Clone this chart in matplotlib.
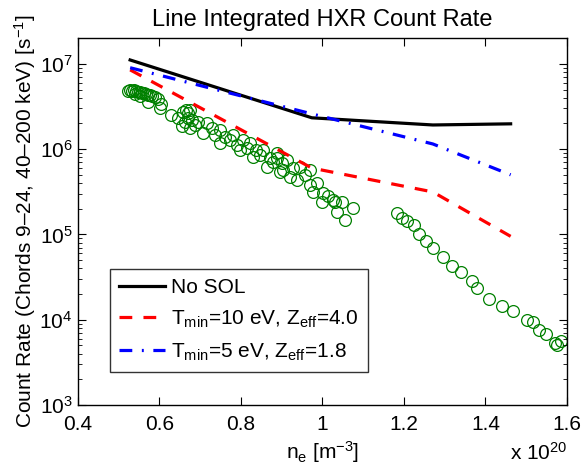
import matplotlib
matplotlib.use("Agg")
import matplotlib.pyplot as plt
from matplotlib.ticker import LogLocator, FixedLocator, NullFormatter

plt.rcParams['font.family'] = ['Liberation Sans', 'DejaVu Sans']
plt.rcParams['mathtext.fontset'] = 'custom'
plt.rcParams['mathtext.rm'] = 'Liberation Sans'
plt.rcParams['mathtext.it'] = 'Liberation Sans:italic'

# Model curves
ne_model = [0.528, 0.974, 1.271, 1.462]
no_sol = [1.11e7, 2.33e6, 1.92e6, 1.98e6]
tmin10 = [8.5e6, 6.0e5, 3.15e5, 9.5e4]
tmin5 = [9.0e6, 2.59e6, 1.15e6, 5.0e5]

# Measured data (group 1)
ne_meas1 = [0.523, 0.528, 0.533, 0.537, 0.542, 0.547, 0.552, 0.557, 0.562, 0.567,
            0.572, 0.577, 0.582, 0.589, 0.596, 0.604, 0.572, 0.601, 0.552, 0.540,
            0.628, 0.645,
            0.658, 0.665, 0.670, 0.675, 0.670, 0.663, 0.680, 0.687, 0.655, 0.675, 0.694,
            0.707, 0.717, 0.729, 0.736, 0.748, 0.748, 0.761, 0.773, 0.780, 0.790,
            0.798, 0.805, 0.815, 0.822, 0.829, 0.837, 0.847, 0.854, 0.864, 0.871,
            0.879, 0.888, 0.888, 0.896, 0.901, 0.903, 0.913, 0.920, 0.928, 0.937,
            0.945, 0.957, 0.969, 0.969, 0.977, 0.987, 0.999, 1.001, 1.014, 1.026,
            1.031, 1.036, 1.048, 1.055, 1.075]
rate_meas1 = [4.82e6, 4.95e6, 4.82e6, 4.95e6, 4.82e6, 4.69e6, 4.69e6, 4.57e6, 4.57e6, 4.45e6,
              4.33e6, 4.33e6, 4.21e6, 4.10e6, 3.88e6, 3.40e6, 3.58e6, 3.05e6, 4.21e6, 4.45e6,
              2.52e6, 2.33e6,
              2.73e6, 2.89e6, 2.66e6, 2.89e6, 2.33e6, 2.09e6, 2.20e6, 1.92e6, 1.87e6, 1.77e6, 2.09e6,
              1.55e6, 2.03e6, 1.77e6, 1.47e6, 1.68e6, 1.18e6, 1.39e6, 1.28e6, 1.47e6, 1.12e6,
              9.8e5, 1.28e6, 1.03e6, 1.18e6, 8.1e5, 9.8e5, 8.6e5, 9.8e5, 6.2e5, 7.9e5,
              7.1e5, 9.0e5, 7.9e5, 5.4e5, 6.9e5, 5.7e5, 7.5e5, 4.7e5, 6.0e5, 4.36e5,
              6.2e5, 5.0e5, 5.7e5, 3.81e5, 3.15e5, 4.02e5, 2.41e5, 3.07e5, 2.83e5, 2.54e5,
              2.41e5, 1.84e5, 2.41e5, 1.48e5, 2.05e5]

# Measured data (group 2)
ne_meas2 = [1.183, 1.195, 1.207, 1.225, 1.237, 1.254, 1.271, 1.296, 1.318, 1.340,
            1.367, 1.379, 1.409, 1.440, 1.467, 1.502, 1.517, 1.531, 1.548, 1.571,
            1.575, 1.585]
rate_meas2 = [1.79e5, 1.56e5, 1.44e5, 1.29e5, 1.01e5, 8.4e4, 6.95e4, 5.45e4, 4.27e4, 3.63e4,
              2.85e4, 2.36e4, 1.75e4, 1.45e4, 1.27e4, 9.9e3, 9.4e3, 7.6e3, 6.8e3, 5.3e3,
              5.1e3, 5.6e3]

xticks = [0.4, 0.6, 0.8, 1.0, 1.2, 1.4, 1.6]
xticklabels = ['0.4', '0.6', '0.8', '1', '1.2', '1.4', '1.6']

fig = plt.figure(figsize=(5.82, 4.71), dpi=100)
ax = fig.add_axes([0.134, 0.140, 0.840, 0.779])

ax.plot(ne_meas1 + ne_meas2, rate_meas1 + rate_meas2, 'o', mfc='none', mec=(0, 0.5, 0),
        ms=8.5, mew=0.9, zorder=1)
l1, = ax.plot(ne_model, no_sol, '-', color='black', lw=2.3, label='No SOL', zorder=3)
l2, = ax.plot(ne_model, tmin10, '--', color='red', lw=2.3, dashes=(4, 3.5),
              label=r'T$_\mathregular{min}$=10 eV, Z$_\mathregular{eff}$=4.0', zorder=3)
l3, = ax.plot(ne_model, tmin5, '-.', color='blue', lw=2.3, dashes=(4, 3, 0.6, 3),
              label=r'T$_\mathregular{min}$=5 eV, Z$_\mathregular{eff}$=1.8', zorder=3)

ax.set_yscale('log')
ax.set_xlim(0.4, 1.6)
ax.set_ylim(1e3, 2e7)
ax.xaxis.set_major_locator(FixedLocator(xticks))
ax.set_xticklabels(xticklabels)
ax.yaxis.set_major_locator(LogLocator(base=10, numticks=10))
ax.yaxis.set_minor_locator(LogLocator(base=10, subs=range(2, 10), numticks=10))
ax.yaxis.set_minor_formatter(NullFormatter())

ax.tick_params(which='both', direction='in', top=True, right=True, labelsize=15)
ax.tick_params(which='major', length=6, width=0.8)
ax.tick_params(which='minor', length=3, width=0.6)
ax.tick_params(axis='x', pad=7)
ax.tick_params(axis='y', pad=4)
for s in ax.spines.values():
    s.set_linewidth(1.0)

ax.set_title('Line Integrated HXR Count Rate', fontsize=17, pad=9)
ax.set_ylabel(r'Count Rate (Chords 9–24, 40–200 keV) [s$^{-1}$]', fontsize=15, labelpad=1)
ax.set_xlabel(r'n$_\mathregular{e}$ [m$^{-3}$]', fontsize=15, labelpad=4)
fig.text(0.975, 0.015, r'x 10$^{20}$', fontsize=15, ha='right', va='bottom')

leg = ax.legend(handles=[l1, l2, l3], loc='lower left', bbox_to_anchor=(0.065, 0.09),
                fontsize=15, frameon=True, fancybox=False, edgecolor='black',
                handlelength=2.2, borderaxespad=0, labelspacing=0.55, handletextpad=0.3,
                borderpad=0.45)
leg.get_frame().set_linewidth(1.0)

fig.savefig('out.png', dpi=100)
